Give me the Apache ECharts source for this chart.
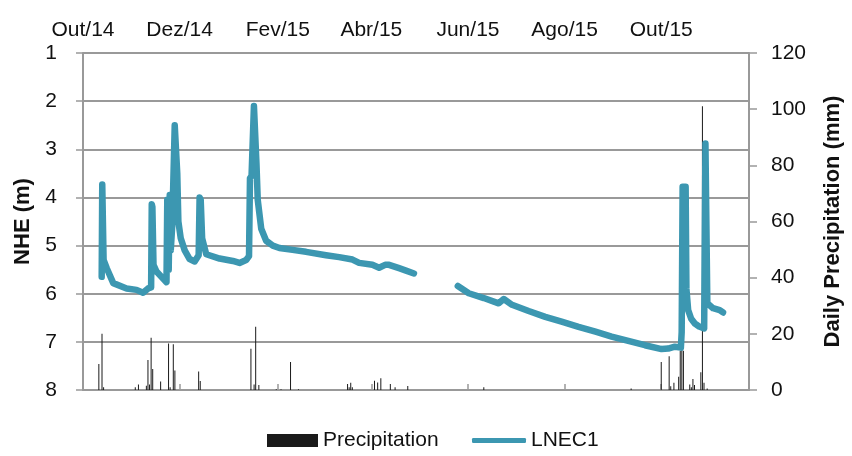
<!DOCTYPE html>
<html><head><meta charset="utf-8">
<script src="https://cdn.jsdelivr.net/npm/echarts@6/dist/echarts.min.js"></script>
<style>html,body{margin:0;padding:0;background:#fff}#c{width:852px;height:456px}</style>
</head><body><div id="c"></div>
<script>
// x values are days since START
const START = '2014-10-01';
const tickDates = ['2014-10-01','2014-12-01','2015-02-01','2015-04-01','2015-06-01','2015-08-01','2015-10-01'];
const tickLabels = ['Out/14','Dez/14','Fev/15','Abr/15','Jun/15','Ago/15','Out/15'];
const X_MAX_DAY = 420.4;

// Daily precipitation (mm)
const precipDay = [10,12,13,33,35,40,41,42,43,44,49,54,55,57,58,73,74,106,108,109,111,122,125,131,136,
  167,168,169,170,184,186,188,194,197,205,253,346,365,370,371,373,376,377,378,379,383,384,385,386,390,391,392,394];
const precipMm = [9.3,20,1,1,2,1.5,10.7,2,18.6,7.5,3,16.6,1,16.3,6.9,6.6,3.2,14.7,2,22.5,1.8,0.3,0.3,10,0.3,
  2.1,1,2.6,1,3.3,2.7,4.2,2.1,1,1.4,1,0.5,10,12,1.3,2.6,4.7,14,15,14,2,1,3.9,1.8,6.3,101,2.6,0.5];

// LNEC1 groundwater level NHE (m); null = data gap
const nheDay = [11.8,12.15,12.6,13.0,15.0,19.1,27.5,33.8,37.9,41.1,43.0,43.4,43.8,44.5,46.4,52.7,53.2,53.7,54.1,54.75,
  55.4,56.3,57.9,58.7,59.5,60.2,61.7,64.2,67.3,70.5,73.0,73.6,74.3,75.2,77.8,86.2,94.6,98.8,103.0,104.8,
  105.4,106.4,107.9,108.6,109.5,110.3,112.5,115.6,119.8,124.0,132.3,140.8,153.4,161.7,170.1,174.3,182.7,186.9,190.7,193.2,
  199.5,203.9,208.9,222,
  236.6,243.5,253.0,262.4,265.6,270.8,281.3,291.8,302.1,312.8,323.5,333.7,344.2,354.7,365.2,369.4,373.6,377.4,377.9,378.5,
  379.5,380.4,380.9,382.0,383.9,386.2,388.9,392.1,392.9,393.5,394.1,397.7,401.9,404.0];
const nheValue = [5.65,3.73,3.75,5.3,5.47,5.78,5.89,5.92,5.98,5.89,5.87,4.14,4.2,5.4,5.54,5.76,4.05,4.1,5.5,3.95,
  5.1,4.6,2.5,2.46,3.5,4.5,4.85,5.1,5.28,5.33,5.2,4.0,4.05,4.85,5.18,5.27,5.32,5.36,5.3,5.22,
  3.6,3.55,2.1,2.08,3.3,4.05,4.65,4.9,5.0,5.05,5.09,5.13,5.2,5.24,5.29,5.36,5.4,5.46,5.4,5.4,
  5.47,5.52,5.58,null,
  5.84,5.99,6.09,6.2,6.11,6.23,6.36,6.48,6.58,6.69,6.79,6.89,6.98,7.07,7.15,7.14,7.1,7.12,6.8,3.78,
  3.8,3.78,5.9,6.34,6.52,6.62,6.68,6.72,2.88,2.9,6.2,6.3,6.34,6.39];

const dayOf = s => (Date.parse(s + 'T00:00:00Z') - Date.parse(START + 'T00:00:00Z')) / 86400000;
const tickDays = tickDates.map(dayOf);

const GRAY = '#999999';
const TXT = '#111111';
const FONT = 'Liberation Sans, Arial, sans-serif';

const chart = echarts.init(document.getElementById('c'), null, {renderer: 'canvas'});
chart.setOption({
  animation: false,
  textStyle: {fontFamily: FONT},
  grid: {left: 83, right: 101, top: 53, bottom: 66, containLabel: false},
  legend: [
    {data: ['Precipitation'], left: 267, top: 430, padding: 0, icon: 'rect', itemWidth: 51, itemHeight: 13,
     itemGap: 10, textStyle: {fontSize: 21, color: TXT, fontFamily: FONT}},
    {data: ['LNEC1'], left: 472, top: 430, padding: 0, icon: 'roundRect', itemWidth: 54, itemHeight: 5,
     textStyle: {fontSize: 21, color: TXT, fontFamily: FONT}}
  ],
  xAxis: {
    type: 'value', position: 'top', min: 0, max: X_MAX_DAY,
    axisLine: {show: true, lineStyle: {color: GRAY, width: 2}},
    axisTick: {show: true, inside: false, length: 6, customValues: tickDays, lineStyle: {color: GRAY, width: 1.5}},
    axisLabel: {customValues: tickDays, fontSize: 21, color: TXT, margin: 12,
      formatter: v => {
        let best = 0;
        tickDays.forEach((t, i) => { if (Math.abs(t - v) < Math.abs(tickDays[best] - v)) best = i; });
        return tickLabels[best];
      }},
    splitLine: {show: false}
  },
  yAxis: [
    {type: 'value', inverse: true, min: 1, max: 8, interval: 1, position: 'left',
     name: 'NHE (m)', nameLocation: 'middle', nameGap: 41,
     nameTextStyle: {fontSize: 22, fontWeight: 'bold', color: TXT, fontFamily: FONT},
     axisLine: {show: true, lineStyle: {color: GRAY, width: 2}},
     axisTick: {show: true, length: 7, lineStyle: {color: GRAY, width: 1.5}},
     axisLabel: {fontSize: 21, color: TXT, margin: 26},
     splitLine: {show: true, lineStyle: {color: GRAY, width: 2}}},
    {type: 'value', min: 0, max: 120, interval: 20, position: 'right',
     name: 'Daily Precipitation (mm)', nameLocation: 'middle', nameGap: 73, nameRotate: 90,
     nameTextStyle: {fontSize: 22, fontWeight: 'bold', color: TXT, fontFamily: FONT},
     axisLine: {show: true, lineStyle: {color: GRAY, width: 2}},
     axisTick: {show: true, length: 8, lineStyle: {color: GRAY, width: 1.5}},
     axisLabel: {fontSize: 21, color: TXT, margin: 22},
     splitLine: {show: false}}
  ],
  series: [
    {name: 'Precipitation', type: 'bar', xAxisIndex: 0, yAxisIndex: 1, barWidth: 1, z: 1,
     itemStyle: {color: '#1a1a1a'},
     data: precipDay.map((d, i) => [d, precipMm[i]])},
    {name: 'LNEC1', type: 'line', xAxisIndex: 0, yAxisIndex: 0, showSymbol: false, symbol: 'none', z: 3,
     connectNulls: false,
     itemStyle: {color: '#3c97b1'},
     lineStyle: {color: '#3c97b1', width: 6.5, cap: 'round', join: 'round'},
     data: nheDay.map((d, i) => [d, nheValue[i] === null ? '-' : nheValue[i]])}
  ]
});
</script>
</body></html>
